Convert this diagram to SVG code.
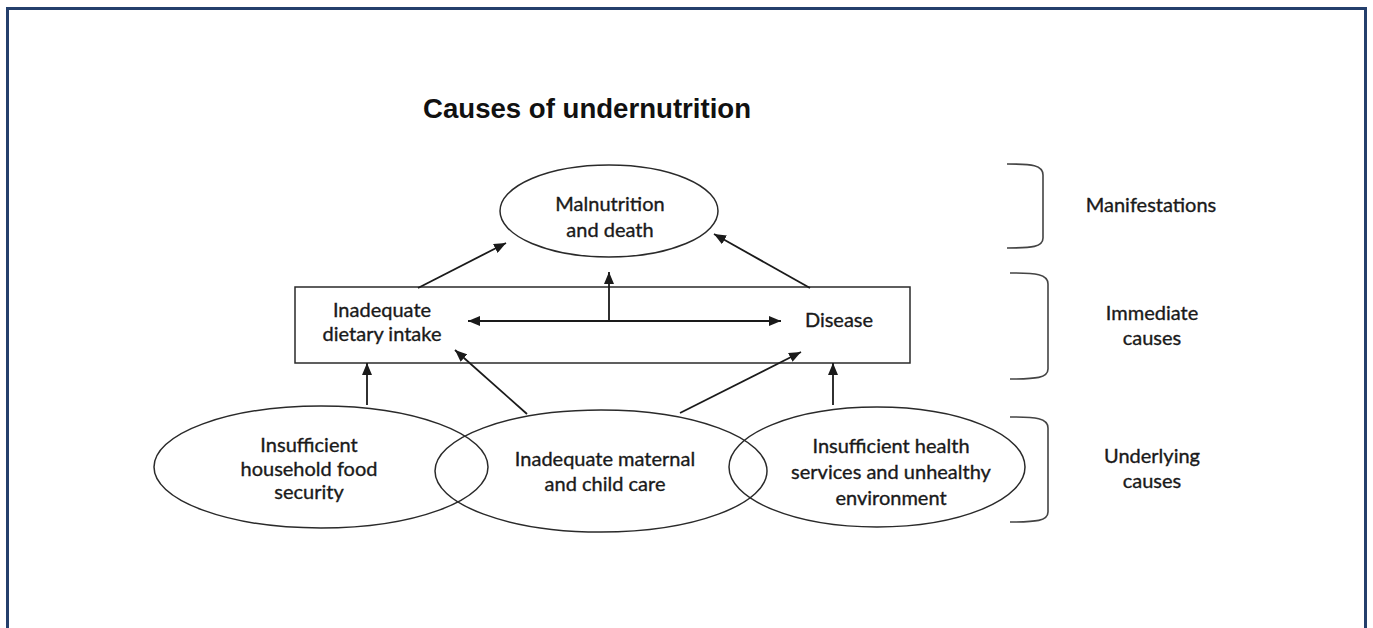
<svg xmlns="http://www.w3.org/2000/svg" width="1373" height="628" viewBox="0 0 1373 628">
<defs>
<marker id="ah" viewBox="0 0 12 10" refX="12" refY="5" markerWidth="12" markerHeight="10" markerUnits="userSpaceOnUse" orient="auto-start-reverse">
<path d="M0,0 L12,5 L0,10 Z" fill="#1a1a1a"/>
</marker>
<style>
.lbl{font-family:Lato,"Open Sans","Liberation Sans",sans-serif;font-size:20px;fill:#1a1a1a;stroke:#1a1a1a;stroke-width:0.35;text-anchor:middle}
.shp{fill:none;stroke:#2a2a2a;stroke-width:1.5}
.con{fill:none;stroke:#1a1a1a;stroke-width:1.8}
.br{fill:none;stroke:#444;stroke-width:1.6}
</style>
</defs>
<rect x="0" y="0" width="1373" height="628" fill="#ffffff"/>
<rect x="7.5" y="8.5" width="1358" height="660" fill="none" stroke="#243f6c" stroke-width="3"/>
<text x="423" y="118" font-family="'Liberation Sans',Arial,sans-serif" font-size="27.6" font-weight="bold" fill="#111">Causes of undernutrition</text>

<g id="malnutrition">
<ellipse class="shp" cx="609" cy="211" rx="109" ry="46"/>
<text class="lbl" x="610" y="211">Malnutrition</text>
<text class="lbl" x="610" y="237">and death</text>
</g>
<g id="immediate-box">
<rect class="shp" x="295" y="287" width="615" height="76"/>
</g>
<g id="dietary">
<text class="lbl" x="382" y="317">Inadequate</text>
<text class="lbl" x="382" y="341">dietary intake</text>
</g>
<g id="disease">
<text class="lbl" x="839" y="327">Disease</text>
</g>
<g id="food-security">
<ellipse class="shp" cx="321" cy="467" rx="167" ry="61"/>
<text class="lbl" x="309" y="452">Insufficient</text>
<text class="lbl" x="309" y="476">household food</text>
<text class="lbl" x="309" y="499">security</text>
</g>
<g id="care">
<ellipse class="shp" cx="601" cy="471" rx="166" ry="61"/>
<text class="lbl" x="605" y="466">Inadequate maternal</text>
<text class="lbl" x="605" y="491">and child care</text>
</g>
<g id="health">
<ellipse class="shp" cx="877" cy="467" rx="148" ry="60"/>
<text class="lbl" x="891" y="453">Insufficient health</text>
<text class="lbl" x="891" y="479">services and unhealthy</text>
<text class="lbl" x="891" y="505">environment</text>
</g>
<g id="manifestations">
<path class="br" d="M1007,164 C1032,164 1043,165 1043,175 V238 C1043,247 1032,248 1007,248"/>
<text class="lbl" x="1151" y="212">Manifestations</text>
</g>
<g id="immediate-causes">
<path class="br" d="M1010,273 C1036,273 1048,274 1048,284 V369 C1048,378 1036,379 1010,379"/>
<text class="lbl" x="1152" y="320">Immediate</text>
<text class="lbl" x="1152" y="345">causes</text>
</g>
<g id="underlying-causes">
<path class="br" d="M1010,417 C1036,417 1048,418 1048,428 V512 C1048,521 1036,522 1010,522"/>
<text class="lbl" x="1152" y="463">Underlying</text>
<text class="lbl" x="1152" y="488">causes</text>
</g>
<g id="connectors">
<line class="con" x1="418" y1="288" x2="506" y2="243" marker-end="url(#ah)"/>
<line class="con" x1="810" y1="288" x2="714" y2="234" marker-end="url(#ah)"/>
<line class="con" x1="609" y1="321" x2="609" y2="272" marker-end="url(#ah)"/>
<line class="con" x1="468" y1="321" x2="781" y2="321" marker-start="url(#ah)" marker-end="url(#ah)"/>
<line class="con" x1="367" y1="405" x2="367" y2="363" marker-end="url(#ah)"/>
<line class="con" x1="527" y1="414" x2="455" y2="350" marker-end="url(#ah)"/>
<line class="con" x1="680" y1="413" x2="801" y2="352" marker-end="url(#ah)"/>
<line class="con" x1="833" y1="405" x2="833" y2="363" marker-end="url(#ah)"/>
</g>
</svg>
